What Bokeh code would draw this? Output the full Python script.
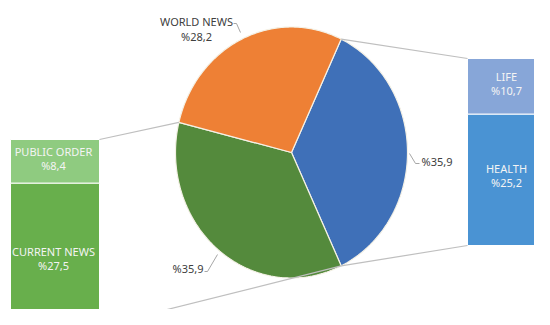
import math
from bokeh.plotting import figure
from bokeh.models import Range1d
from bokeh.core.properties import value
from bokeh.embed import file_html
from bokeh.resources import INLINE

# ---- data ----
pie_names = ["", "", "WORLD NEWS"]          # clockwise from the right-hand "other" slice
pie_values = [35.9, 35.9, 28.2]
pie_colors = ["#3F70B8", "#548A3C", "#EE8035"]

right_names = ["LIFE", "HEALTH"]
right_values = [10.7, 25.2]
right_colors = ["#87A6D8", "#4A93D3"]

left_names = ["PUBLIC ORDER", "CURRENT NEWS"]
left_values = [8.4, 27.5]
left_colors = ["#8FCB80", "#68AF4C"]

def fmt(v):
    return "%" + ("%.1f" % v).replace(".", ",")

# ---- layout ----
W, H = 534, 309
X0, Y0 = 0, 0
p = figure(width=W, height=H, output_backend="svg", toolbar_location=None,
           x_range=Range1d(X0, X0 + W), y_range=Range1d(Y0 + H, Y0),
           min_border=0, outline_line_color=None)
p.axis.visible = False
p.grid.visible = False
p.background_fill_color = "white"

FONT = value("Noto Sans")
cx, cy, rx, ry = 291, 152, 116, 125.5

def pt(theta_deg, k=1.0):
    t = math.radians(theta_deg)
    return cx + k * rx * math.sin(t), cy - k * ry * math.cos(t)

total = sum(pie_values)
start = 90 - pie_values[0] / total * 180
angles = []
a = start
for v in pie_values:
    span = v / total * 360
    angles.append((a, a + span))
    a += span

xs, ys = [], []
for a0, a1 in angles:
    n = 120
    px, py = [cx], [cy]
    for i in range(n + 1):
        x, y = pt(a0 + (a1 - a0) * i / n)
        px.append(x); py.append(y)
    xs.append(px); ys.append(py)
p.patches(xs, ys, fill_color=pie_colors, line_color="#F4F1E6", line_width=1.2)

# ---- bars ----
bar_h = 187.0
scale = bar_h / sum(right_values)
# right bar
rb_left, rb_right, rb_top = 467, 560, 58
tops = []
y = rb_top
for v in right_values:
    tops.append(y); y += v * scale
p.quad(left=rb_left, right=rb_right, top=tops,
       bottom=[t + v * scale for t, v in zip(tops, right_values)],
       fill_color=right_colors, line_color="white", line_width=1)
rb_bottom = y
# left bar
lb_left, lb_right, lb_top = 10, 99, 139
ltops = []
y = lb_top
for v in left_values:
    ltops.append(y); y += v * scale
p.quad(left=lb_left, right=lb_right, top=ltops,
       bottom=[t + v * scale for t, v in zip(ltops, left_values)],
       fill_color=left_colors, line_color="white", line_width=1)
lb_bottom = y

# ---- connectors ----
c_col = "#BFBFBF"
b_top = pt(angles[0][0]); b_bot = pt(angles[0][1]); g_end = pt(angles[1][1])
p.line([b_top[0], rb_left], [b_top[1], rb_top], line_color=c_col, line_width=1.2)
p.line([b_bot[0], rb_left], [b_bot[1], rb_bottom], line_color=c_col, line_width=1.2)
p.line([g_end[0], lb_right], [g_end[1], lb_top], line_color=c_col, line_width=1.2)
p.line([b_bot[0], lb_right], [b_bot[1], lb_bottom], line_color=c_col, line_width=1.2)

# ---- bar labels ----
def bar_labels(names, vals, tops_, xc):
    for nme, v, t in zip(names, vals, tops_):
        ym = t + v * scale / 2
        p.text([xc], [ym], text=[nme], text_font=FONT, text_font_size="11px",
               text_color="#F4F4F4", text_align="center", text_baseline="middle",
               y_offset=-7)
        p.text([xc], [ym], text=[fmt(v)], text_font=FONT, text_font_size="11px",
               text_color="#F4F4F4", text_align="center", text_baseline="middle",
               y_offset=7)

bar_labels(right_names, right_values, [tops[0] - 3, tops[1] - 4], 506)
bar_labels(left_names, left_values, [ltops[0] - 3, ltops[1] + 4], 53)

# ---- pie labels ----
lab_col = "#404040"
# right slice
p.text([421], [161], text=[fmt(pie_values[0])], text_font=FONT, text_font_size="11px",
       text_color=lab_col, text_align="left", text_baseline="middle")
p.line([409, 415, 419], [153, 163, 163], line_color="#A6A6A6", line_width=1)
# lower-left slice
p.text([203], [268], text=[fmt(pie_values[1])], text_font=FONT, text_font_size="11px",
       text_color=lab_col, text_align="right", text_baseline="middle")
p.line([204, 207, 217], [271, 271, 254], line_color="#A6A6A6", line_width=1)
# top slice
p.text([196], [21], text=[pie_names[2]], text_font=FONT, text_font_size="11px",
       text_color=lab_col, text_align="center", text_baseline="middle")
p.text([196], [36], text=[fmt(pie_values[2])], text_font=FONT, text_font_size="11px",
       text_color=lab_col, text_align="center", text_baseline="middle")
p.line([233, 236, 240], [23, 23, 32], line_color="#A6A6A6", line_width=1)

open("out.html", "w").write(file_html(p, INLINE))
